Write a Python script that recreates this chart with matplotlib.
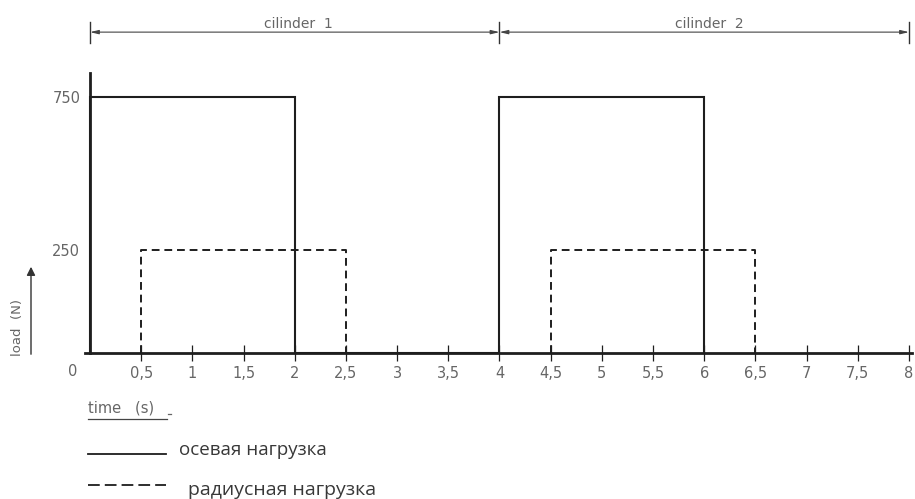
import numpy as np
import matplotlib
matplotlib.use("Agg")
from matplotlib import pyplot as plt
from matplotlib.lines import Line2D

# cycle data (time in s, load in N)
axial_t = [0, 0, 2, 2, 4, 4, 6, 6]
axial_load = [0, 750, 750, 0, 0, 750, 750, 0]
radial_t1 = [0.5, 0.5, 2.5, 2.5]
radial_t2 = [4.5, 4.5, 6.5, 6.5]
radial_load = [0, 250, 250, 0]

x_ticks = [0.5, 1, 1.5, 2, 2.5, 3, 3.5, 4, 4.5, 5, 5.5, 6, 6.5, 7, 7.5, 8]
x_tick_labels = [str(v).replace(".", ",") for v in x_ticks]
y_ticks = [250, 750]
cylinders = ["cilinder  1", "cilinder  2"]
cyl_bounds = [0, 4, 8]
legend_labels = ["осевая нагрузка", "радиусная нагрузка"]

# the drawing is schematic: 250 N sits higher than a linear scale would put it
y_pts = [0, 250, 750, 1000]
y_pix = [0, 103, 256, 332.5]

def fwd(y):
    return np.interp(y, y_pts, y_pix)

def inv(p):
    return np.interp(p, y_pix, y_pts)

ink = "#1e1e1e"
grey = "#666666"

fig = plt.figure(figsize=(9.15, 4.99), dpi=100)
ax = fig.add_axes([85 / 915, 146 / 499, (912 - 85) / 915, 280 / 499])
ax.set_yscale("function", functions=(fwd, inv))
ax.set_xlim(-5 / 102.4, 8 + 3 / 102.4)
ax.set_ylim(0, 828)

ax.plot(axial_t, axial_load, color=ink, lw=1.5, solid_joinstyle="miter")
for rt in (radial_t1, radial_t2):
    ax.plot(rt, radial_load, color=ink, lw=1.4, linestyle=(0, (4, 2.5)))

for s in ("top", "right"):
    ax.spines[s].set_visible(False)
ax.spines["left"].set_position(("data", 0))
ax.spines["left"].set_linewidth(2.0)
ax.spines["bottom"].set_linewidth(2.0)
ax.spines["left"].set_color(ink)
ax.spines["bottom"].set_color(ink)

ax.set_xticks(x_ticks, x_tick_labels)
ax.set_yticks(y_ticks, [str(v) for v in y_ticks])
ax.tick_params(axis="x", direction="inout", length=12, width=0.9, color=ink,
               labelsize=10.5, labelcolor=grey, pad=3)
ax.tick_params(axis="y", length=0, labelsize=10.5, labelcolor=grey, pad=7)
ax.text(-0.17, -0.067, "0", transform=ax.get_xaxis_transform(), ha="center",
        va="center", fontsize=10.5, color=grey)

# dimension lines for the two cylinders
bt = ax.get_xaxis_transform()
label_x = [2.04, 6.05]
for i, name in enumerate(cylinders):
    a, b = cyl_bounds[i], cyl_bounds[i + 1]
    ax.annotate("", xy=(a, 1.146), xytext=(b, 1.146), xycoords=bt, textcoords=bt,
                annotation_clip=False,
                arrowprops=dict(arrowstyle="<|-|>,head_length=0.5,head_width=0.12",
                                color="#444444", lw=0.8, shrinkA=0, shrinkB=0))
    ax.text(label_x[i], 1.175, name, transform=bt, ha="center", va="center",
            fontsize=10, color=grey)
for b in cyl_bounds:
    ax.add_line(Line2D([b, b], [1.107, 1.182], transform=bt, color="#333333",
                       lw=1.0, clip_on=False))

# y label with arrow
fig.text(18 / 915, 1 - 328 / 499, "load  (N)", rotation=90, ha="center", va="center",
         fontsize=9.5, color=grey)
fig.add_artist(matplotlib.patches.FancyArrowPatch(
    (31 / 915, 1 - 357 / 499), (31 / 915, 1 - 264 / 499), transform=fig.transFigure,
    arrowstyle="-|>,head_length=5,head_width=2.5", color="#333333", lw=1.0))

# x label, underlined
fig.text(88 / 915, 1 - 408 / 499, "time   (s)", ha="left", va="center",
         fontsize=10.5, color=grey)
fig.add_artist(Line2D([88 / 915, 167 / 915], [1 - 419 / 499] * 2,
                      transform=fig.transFigure, color="#444444", lw=0.9))
fig.add_artist(Line2D([168 / 915, 171 / 915], [1 - 414 / 499] * 2,
                      transform=fig.transFigure, color="#666666", lw=0.9))

# legend drawn by hand like the drawing
fig.add_artist(Line2D([88 / 915, 166 / 915], [1 - 454 / 499] * 2,
                      transform=fig.transFigure, color=ink, lw=1.3))
fig.add_artist(Line2D([88 / 915, 166 / 915], [1 - 485 / 499] * 2,
                      transform=fig.transFigure, color=ink, lw=1.3,
                      linestyle=(0, (6.5, 2.8))))
fig.text(179 / 915, 1 - 455 / 499, legend_labels[0], ha="left", va="baseline",
         fontsize=13.5, color="#383838", family="Open Sans")
fig.text(188 / 915, 1 - 495 / 499, legend_labels[1], ha="left", va="baseline",
         fontsize=14, color="#383838", family="Open Sans")

fig.savefig("out.png", dpi=100)
